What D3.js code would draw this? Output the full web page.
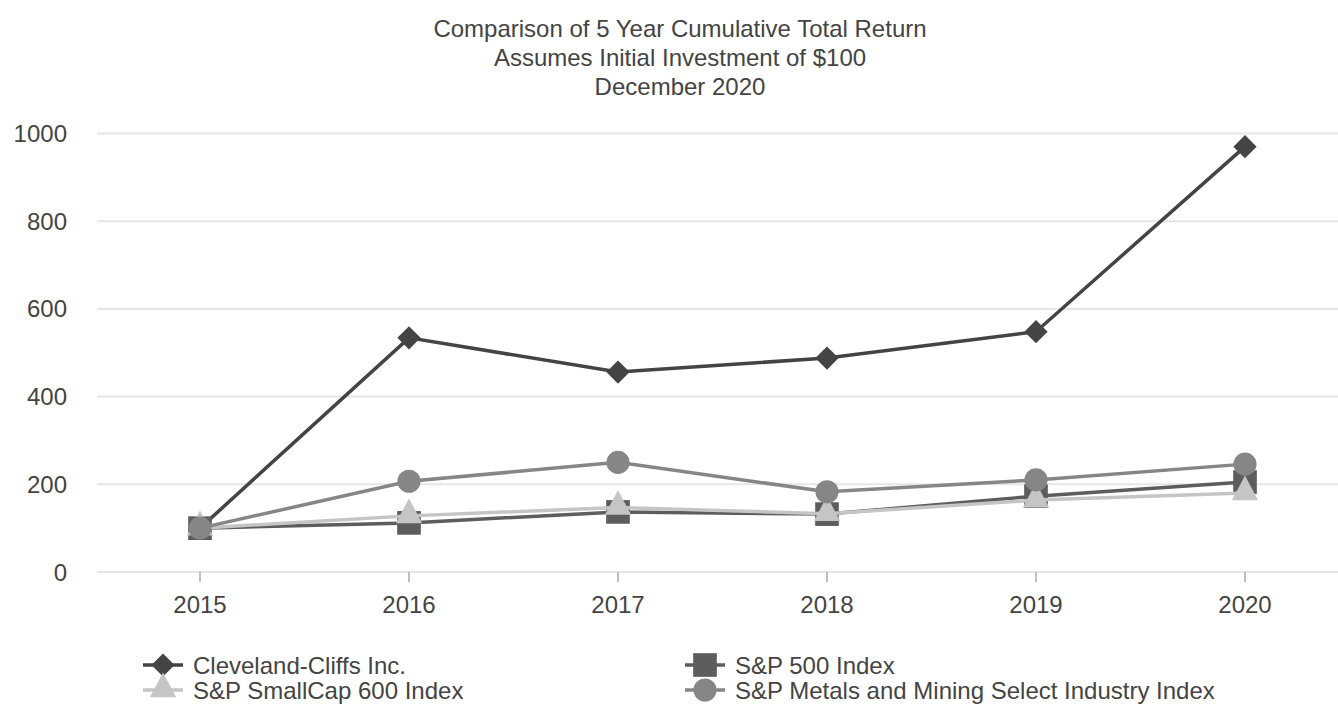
<!DOCTYPE html>
<html><head><meta charset="utf-8">
<script src="https://cdn.jsdelivr.net/npm/d3@7"></script>
<style>
html,body{margin:0;padding:0;background:#fff;}
svg{display:block;font-family:"Liberation Sans",Arial,sans-serif;}
</style></head>
<body>
<svg id="chart" width="1338" height="706"></svg>
<script>
const years = ["2015","2016","2017","2018","2019","2020"];
const yTicks = [0,200,400,600,800,1000];
const titleLines = ["Comparison of 5 Year Cumulative Total Return","Assumes Initial Investment of $100","December 2020"];
const cliffs = [100,534,456,488,548,970];
const sp500 = [100,112,137,132,173,205];
const smallcap = [100,128,147,133,164,180];
const metals = [100,207,250,183,210,246];
const seriesNames = ["Cleveland-Cliffs Inc.","S&P 500 Index","S&P SmallCap 600 Index","S&P Metals and Mining Select Industry Index"];
const seriesColors = ["#444444","#5d5d5d","#c5c5c5","#868686"];
const seriesSymbols = ["diamond","square","triangle","circle"];

const series = [
  {name:seriesNames[0], values:cliffs, color:seriesColors[0], sym:seriesSymbols[0]},
  {name:seriesNames[1], values:sp500, color:seriesColors[1], sym:seriesSymbols[1]},
  {name:seriesNames[2], values:smallcap, color:seriesColors[2], sym:seriesSymbols[2]},
  {name:seriesNames[3], values:metals, color:seriesColors[3], sym:seriesSymbols[3]}
];

const svg = d3.select("#chart");
const x = d3.scalePoint().domain(years).range([200,1245]);
const y = d3.scaleLinear().domain([0,1000]).range([572,133.5]);
const gridLeft = 97, gridRight = 1338;
const textColor = "#444";

// title
svg.append("g").selectAll("text").data(titleLines).join("text")
  .attr("x",680).attr("y",(d,i)=>37+i*29)
  .attr("text-anchor","middle").attr("font-size",24).attr("fill",textColor)
  .text(d=>d);

// grid
svg.append("g").selectAll("line").data(yTicks).join("line")
  .attr("x1",gridLeft).attr("x2",gridRight)
  .attr("y1",d=>y(d)).attr("y2",d=>y(d))
  .attr("stroke","#e6e6e6").attr("stroke-width",2);

// y labels
svg.append("g").selectAll("text").data(yTicks).join("text")
  .attr("x",67).attr("y",d=>y(d)+8.5)
  .attr("text-anchor","end").attr("font-size",24).attr("fill",textColor)
  .text(d=>d);

// x ticks and labels
const xg = svg.append("g");
xg.selectAll("line").data(years).join("line")
  .attr("x1",d=>x(d)).attr("x2",d=>x(d)).attr("y1",y(0)).attr("y2",y(0)+10)
  .attr("stroke","#aaa").attr("stroke-width",1.5);
xg.selectAll("text").data(years).join("text")
  .attr("x",d=>x(d)).attr("y",y(0)+41)
  .attr("text-anchor","middle").attr("font-size",24).attr("fill",textColor)
  .text(d=>d);

function symPath(sym, size){
  const t = {diamond:d3.symbolSquare, square:d3.symbolSquare, triangle:d3.symbolTriangle, circle:d3.symbolCircle}[sym];
  return d3.symbol().type(t).size(size)();
}
const symSize = {diamond:270, square:560, triangle:270, circle:420};
function drawMarker(g, sym, color){
  const p = g.append("path").attr("d",symPath(sym,symSize[sym])).attr("fill",color);
  if(sym==="diamond") p.attr("transform","rotate(45)");
  if(sym==="triangle") p.attr("transform","translate(0,-1) scale(1.05,1.15)");
}

const line = d3.line().x((d,i)=>x(years[i])).y(d=>y(d));
series.forEach(s=>{
  const g = svg.append("g");
  g.append("path").attr("d",line(s.values)).attr("fill","none")
    .attr("stroke",s.color).attr("stroke-width",3.5);
  s.values.forEach((v,i)=>{
    const m = g.append("g").attr("transform",`translate(${x(years[i])},${y(v)})`);
    drawMarker(m,s.sym,s.color);
  });
});

// legend
const legendPos = [[143,665],[685,665],[143,690],[685,690]];
series.forEach((s,i)=>{
  const [lx,ly] = legendPos[i];
  const g = svg.append("g").attr("transform",`translate(${lx},${ly})`);
  g.append("line").attr("x1",0).attr("x2",40).attr("y1",0).attr("y2",0)
    .attr("stroke",s.color).attr("stroke-width",3.5);
  const m = g.append("g").attr("transform","translate(20,0)");
  drawMarker(m,s.sym,s.color);
  g.append("text").attr("x",50).attr("y",8.5).attr("font-size",24).attr("fill",textColor).text(s.name);
});
</script>
</body></html>
